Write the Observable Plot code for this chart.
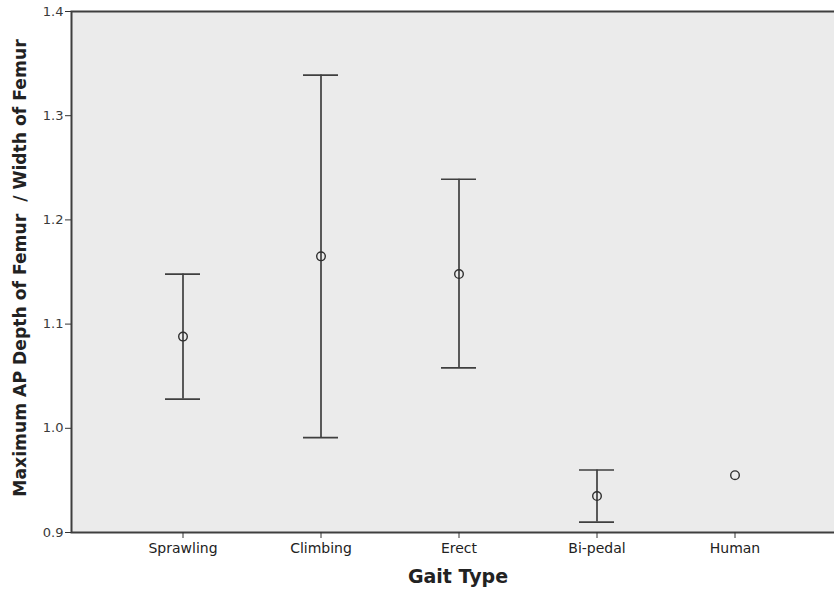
<!DOCTYPE html>
<html>
<head>
<meta charset="utf-8">
<script src="https://cdn.jsdelivr.net/npm/d3@7"></script>
<script src="https://cdn.jsdelivr.net/npm/@observablehq/plot@0.6"></script>
<style>
  html, body { margin: 0; padding: 0; background: #ffffff; }
  #chart svg { display: block; }
</style>
</head>
<body>
<div id="chart"></div>
<script>
const categories = ["Sprawling", "Climbing", "Erect", "Bi-pedal", "Human"];
const means = [1.088, 1.165, 1.148, 0.935, 0.955];
const lower = [1.028, 0.991, 1.058, 0.910, null];
const upper = [1.148, 1.339, 1.239, 0.960, null];
const yTicks = [0.9, 1.0, 1.1, 1.2, 1.3, 1.4];

const data = categories.map((c, i) => ({gait: c, mean: means[i], lo: lower[i], hi: upper[i]}));
const bars = data.filter(d => d.lo != null);

const font = "'DejaVu Sans', sans-serif";
const lineColor = "#3f3f3f";

const chart = Plot.plot({
  width: 834,
  height: 591,
  marginLeft: 71,
  marginRight: 0,
  marginTop: 11,
  marginBottom: 59,
  style: {fontFamily: font, background: "#ffffff"},
  x: {type: "band", domain: categories, paddingInner: 0.746, paddingOuter: 0.63, align: 0.537, label: null},
  y: {domain: [0.9, 1.4], label: null},
  marks: [
    Plot.frame({fill: "#ebebeb"}),
    Plot.ruleX(bars, {x: "gait", y1: "lo", y2: "hi", stroke: lineColor, strokeWidth: 1.7}),
    Plot.tickY(bars, {x: "gait", y: "lo", stroke: lineColor, strokeWidth: 1.7}),
    Plot.tickY(bars, {x: "gait", y: "hi", stroke: lineColor, strokeWidth: 1.7}),
    Plot.dot(data, {x: "gait", y: "mean", r: 4.3, stroke: "#2f2f2f", strokeWidth: 1.4, fill: "none"}),
    Plot.frame({stroke: lineColor, strokeWidth: 2, insetRight: -6}),
    Plot.axisY({ticks: yTicks, tickFormat: d3.format(".1f"), tickSize: 6, tickPadding: 2, fontSize: 13, color: "#3a3a3a", stroke: "#333", label: null}),
    Plot.axisX({tickSize: 6, tickPadding: 5, fontSize: 14, color: "#222", stroke: "#333", label: null}),
    Plot.text(["Maximum AP Depth of Femur  / Width of Femur"], {frameAnchor: "left", textAnchor: "middle", dx: -51, dy: -4, rotate: -90, fontSize: 17.2, fontWeight: "bold", fill: "#222"}),
    Plot.text(["Gait Type"], {frameAnchor: "bottom", dx: 5, dy: 50, fontSize: 19, fontWeight: "bold", fill: "#222"})
  ]
});
document.getElementById("chart").appendChild(chart);
</script>
</body>
</html>
